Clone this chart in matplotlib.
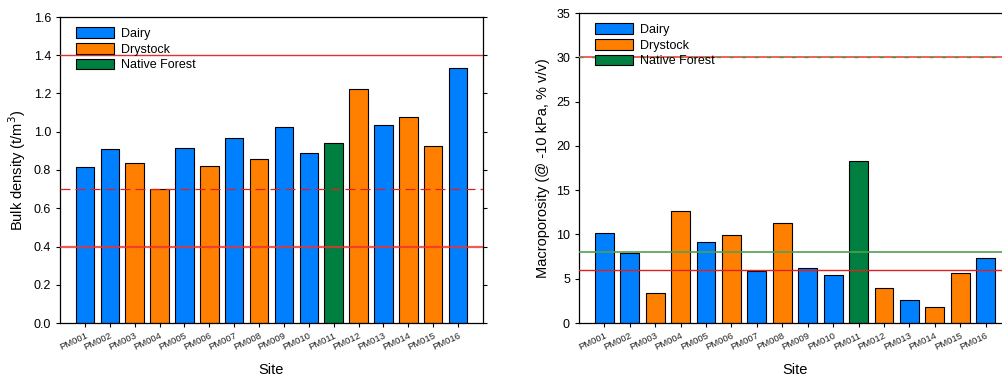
import numpy as np
import matplotlib
matplotlib.use('Agg')
import matplotlib.pyplot as plt
from matplotlib.patches import Patch

plt.rcParams['font.family'] = ['Liberation Sans', 'DejaVu Sans']

sites = ['PM001', 'PM002', 'PM003', 'PM004', 'PM005', 'PM006', 'PM007', 'PM008',
         'PM009', 'PM010', 'PM011', 'PM012', 'PM013', 'PM014', 'PM015', 'PM016']
land_use = ['Dairy', 'Dairy', 'Drystock', 'Drystock', 'Dairy', 'Drystock', 'Dairy', 'Drystock',
            'Dairy', 'Dairy', 'Native Forest', 'Drystock', 'Dairy', 'Drystock', 'Drystock', 'Dairy']
bulk_density = [0.815, 0.91, 0.835, 0.70, 0.915, 0.82, 0.965, 0.86,
                1.025, 0.89, 0.94, 1.225, 1.035, 1.075, 0.925, 1.335]
macroporosity = [10.2, 7.9, 3.4, 12.6, 9.2, 9.9, 5.9, 11.3,
                 6.2, 5.4, 18.3, 4.0, 2.6, 1.8, 5.7, 7.3]

colours = {'Dairy': '#0080FF', 'Drystock': '#FF8000', 'Native Forest': '#008040'}

fig = plt.figure(figsize=(10.03, 3.76), dpi=100)
ax1 = fig.add_axes([60/1003, 53/376, 423/1003, 306/376])
ax2 = fig.add_axes([579/1003, 53/376, 432/1003, 310/376])

x = np.arange(len(sites))
cols = [colours[u] for u in land_use]


def style_axes(ax):
    ax.set_xlim(-1, 16)
    ax.set_xticks(x)
    ax.set_xticklabels(sites, rotation=25, ha='right', fontsize=6.8, color='#222222',
                       rotation_mode='anchor')
    ax.tick_params(axis='x', length=3, width=0.8, pad=3)
    ax.tick_params(axis='y', labelsize=9, length=3, width=0.8, right=True, direction='out')
    ax.set_xlabel('Site', fontsize=10.5, labelpad=8)
    for s in ax.spines.values():
        s.set_linewidth(0.9)
    handles = [Patch(facecolor=colours[k], edgecolor='black', linewidth=0.8, label=k)
               for k in colours]
    ax.legend(handles=handles, loc='upper left', frameon=False, fontsize=9,
              handlelength=3.0, handleheight=0.95, labelspacing=0.25,
              borderaxespad=0.5, borderpad=0.3, handletextpad=0.6,
              bbox_to_anchor=(0.015, 1.0))


# bulk density
ax1.bar(x, bulk_density, width=0.74, color=cols, edgecolor='black', linewidth=0.8, zorder=2)
ax1.axhline(1.4, color='#E03030', linewidth=1.0, zorder=3)
ax1.axhline(0.7, color='#E02020', linewidth=0.9, linestyle=(0, (8, 4)), zorder=3)
ax1.axhline(0.4, color='#F03030', linewidth=1.6, alpha=0.8, zorder=3)
ax1.set_ylim(0, 1.6)
ax1.set_yticks(np.arange(0, 1.61, 0.2))
ax1.set_yticklabels(['%.1f' % v for v in np.arange(0, 1.61, 0.2)])
ax1.set_ylabel('Bulk density (t/m$^3$)', fontsize=10.5)
style_axes(ax1)

# macroporosity
ax2.bar(x, macroporosity, width=0.74, color=cols, edgecolor='black', linewidth=0.8, zorder=2)
ax2.axhline(30, color='#F06060', linewidth=1.4, zorder=3)
ax2.axhline(30, color='#40A040', linewidth=1.0, linestyle=(0, (3, 6)), zorder=3)
ax2.axhline(8, color='#50A050', linewidth=1.2, zorder=3)
ax2.axhline(6, color='#E02020', linewidth=1.0, zorder=3)
ax2.set_ylim(0, 35)
ax2.set_yticks(np.arange(0, 36, 5))
ax2.set_ylabel('Macroporosity (@ -10 kPa, % v/v)', fontsize=10.5)
style_axes(ax2)

fig.savefig('out.png', dpi=100)
